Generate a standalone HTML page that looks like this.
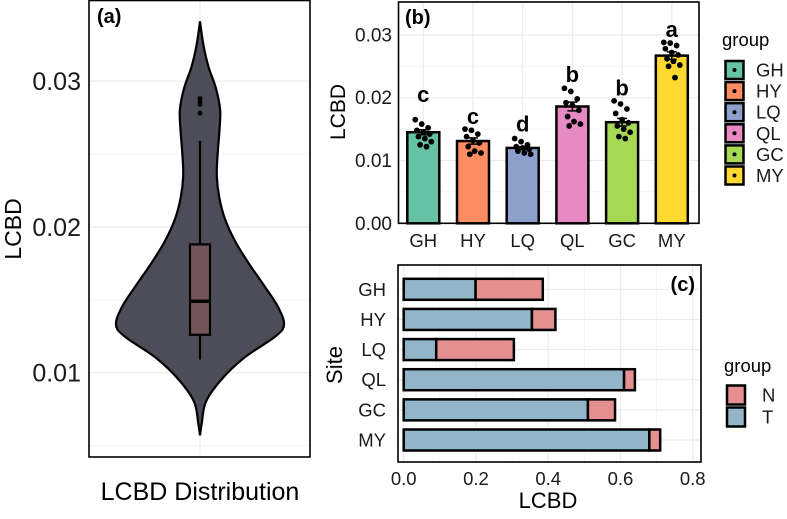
<!DOCTYPE html>
<html><head><meta charset="utf-8"><style>
body{margin:0;background:#fff}
svg{display:block;font-family:"Liberation Sans",Arial,sans-serif}
</style></head><body>
<svg id="s" width="787" height="519" viewBox="0 0 787 519">
<g id="ga"></g>
<g id="gb"></g>
<g id="gc"></g>
</svg>
<script>
// Panel (a) data
const violinVals = [0.0057,0.0065,0.0080,0.0095,0.0110,0.0125,0.0133,0.0145,0.0160,0.0175,0.0190,0.0205,0.0220,0.0235,0.0250,0.0265,0.0280,0.0295,0.0310,0.0325,0.0341];
const violinDens = [0,0.02,0.07,0.25,0.52,0.9,1.0,0.93,0.76,0.58,0.42,0.3,0.23,0.2,0.21,0.23,0.24,0.19,0.1,0.04,0];
const boxStats = [0.0109,0.0126,0.0149,0.0188,0.0259];
const outliers = [0.0288,0.0286,0.0284,0.0278];
const aTicks = [0.01,0.02,0.03];
// Panel (b) data
const sites = ["GH","HY","LQ","QL","GC","MY"];
const barColors = ["#66c2a5","#fc8d62","#8da0cb","#e78ac3","#a6d854","#ffd92f"];
const barMeans = [0.0145,0.0131,0.0120,0.0186,0.0161,0.0267];
const barSE = [0.0004,0.0005,0.0002,0.0007,0.0006,0.0006];
const letters = ["c","c","d","b","b","a"];
const letterVals = [0.0204,0.0169,0.0157,0.0236,0.0215,0.0308];
const pointsGH = [0.0165,0.0158,0.0152,0.0148,0.0145,0.0142,0.0138,0.0135,0.013,0.0125,0.0122];
const pointsHY = [0.015,0.0148,0.0142,0.0138,0.0132,0.0128,0.0122,0.0115,0.0112,0.011];
const pointsLQ = [0.0135,0.013,0.0125,0.0122,0.012,0.0118,0.0115,0.0112,0.011];
const pointsQL = [0.0215,0.021,0.0198,0.0192,0.0188,0.018,0.017,0.0162,0.0158,0.0155];
const pointsGC = [0.0195,0.019,0.0182,0.0175,0.0165,0.016,0.0155,0.015,0.0145,0.0138,0.0135];
const pointsMY = [0.0288,0.0287,0.0283,0.0278,0.0272,0.0268,0.0262,0.0258,0.0252,0.025,0.0232];
const bTicks = [0,0.01,0.02,0.03];
const bTickLabels = ["0.00","0.01","0.02","0.03"];
// Panel (c) data
const cSites = ["GH","HY","LQ","QL","GC","MY"];
const valT = [0.199,0.355,0.09,0.61,0.51,0.68];
const valN = [0.186,0.065,0.215,0.03,0.075,0.03];
const cTicks = [0,0.2,0.4,0.6,0.8];
const cTickLabels = ["0.0","0.2","0.4","0.6","0.8"];

const NS="http://www.w3.org/2000/svg";
function mk(parent,tag,attrs,text){const e=document.createElementNS(NS,tag);for(const k in attrs)e.setAttribute(k,attrs[k]);if(text!==undefined)e.textContent=text;parent.appendChild(e);return e;}

// ---------- Panel A ----------
const ga=document.getElementById('ga');
const ya=v=>372.7-(v-0.01)/0.01*145.8;
const cxa=200, wa=84;
mk(ga,'rect',{x:89,y:0,width:221,height:457,fill:'#fff'});
[0.005,0.015,0.025].forEach(v=>{mk(ga,'line',{x1:89,x2:310,y1:ya(v),y2:ya(v),stroke:'#f2f2f2','stroke-width':0.7});});
aTicks.forEach((v,i)=>{
 const l=mk(ga,'line',{x1:89,x2:310,y1:ya(v),y2:ya(v),stroke:'#ebebeb','stroke-width':1.2});
 
 
 const t=mk(ga,'text',{x:81,y:ya(v)+9,'text-anchor':'end','font-size':25,fill:'#1a1a1a'},v.toFixed(2));
 
 
});
mk(ga,'line',{x1:cxa,x2:cxa,y1:0,y2:457,stroke:'#ebebeb','stroke-width':1.2});
function smoothPath(pts){let d=`M${pts[0][0]},${pts[0][1]}`;for(let i=0;i<pts.length-1;i++){const p0=pts[Math.max(i-1,0)],p1=pts[i],p2=pts[i+1],p3=pts[Math.min(i+2,pts.length-1)];
 const c1=[p1[0]+(p2[0]-p0[0])/6,p1[1]+(p2[1]-p0[1])/6],c2=[p2[0]-(p3[0]-p1[0])/6,p2[1]-(p3[1]-p1[1])/6];d+=` C${c1[0]},${c1[1]} ${c2[0]},${c2[1]} ${p2[0]},${p2[1]}`;}return d;}
const right=violinVals.map((v,i)=>[cxa+violinDens[i]*wa,ya(v)]);
const left=violinVals.map((v,i)=>[cxa-violinDens[i]*wa,ya(v)]).reverse();
let vd=smoothPath(right)+' '+smoothPath(left).replace(/^M/,'L')+'Z';
const vp=mk(ga,'path',{d:vd,fill:'#4d4c59',stroke:'#000','stroke-width':2.2});


mk(ga,'line',{x1:cxa,x2:cxa,y1:ya(boxStats[4]),y2:ya(boxStats[3]),stroke:'#000','stroke-width':2.2});
mk(ga,'line',{x1:cxa,x2:cxa,y1:ya(boxStats[1]),y2:ya(boxStats[0]),stroke:'#000','stroke-width':2.2});
const bx=mk(ga,'rect',{x:cxa-10,y:ya(boxStats[3]),width:20,height:ya(boxStats[1])-ya(boxStats[3]),fill:'#74555c',stroke:'#000','stroke-width':2.2});


mk(ga,'line',{x1:cxa-10,x2:cxa+10,y1:ya(boxStats[2]),y2:ya(boxStats[2]),stroke:'#000','stroke-width':3.5});
outliers.forEach(v=>{const c=mk(ga,'circle',{cx:cxa,cy:ya(v),r:2.4,fill:'#000'});});
mk(ga,'rect',{x:89,y:0.5,width:221,height:456.5,fill:'none',stroke:'#000','stroke-width':1.6});
mk(ga,'text',{x:97,y:23,'font-size':20,'font-weight':'bold'},'(a)');
const at=mk(ga,'text',{x:0,y:0,'font-size':23,'text-anchor':'middle',transform:'translate(21,229) rotate(-90)'},'LCBD');

const ax=mk(ga,'text',{x:200,y:500,'font-size':25,'text-anchor':'middle'},'LCBD Distribution');


// ---------- Panel B ----------
const gb=document.getElementById('gb');
const yb=v=>223.3-v/0.01*62.8;
const xb=i=>423.3+i*49.7;
const allPts=[pointsGH,pointsHY,pointsLQ,pointsQL,pointsGC,pointsMY];
mk(gb,'rect',{x:398,y:2,width:301,height:221,fill:'#fff'});
[0.005,0.015,0.025].forEach(v=>mk(gb,'line',{x1:398,x2:699,y1:yb(v),y2:yb(v),stroke:'#f2f2f2','stroke-width':0.7}));
bTicks.forEach((v,i)=>{
 mk(gb,'line',{x1:398,x2:699,y1:yb(v),y2:yb(v),stroke:'#ebebeb','stroke-width':1.2});
 const t=mk(gb,'text',{x:392,y:yb(v)+6.5,'text-anchor':'end','font-size':19,fill:'#1a1a1a'},bTickLabels[i]);
 
 
});
sites.forEach((s,i)=>{
 mk(gb,'line',{x1:xb(i),x2:xb(i),y1:2,y2:223,stroke:'#ebebeb','stroke-width':1.2});
});
sites.forEach((s,i)=>{
 const r=mk(gb,'rect',{x:xb(i)-16,y:yb(barMeans[i]),width:32,height:yb(0)-yb(barMeans[i]),fill:barColors[i],stroke:'#000','stroke-width':2.5});
 
 
 allPts[i].forEach((v,j)=>{
  const off=((j*37)%11-5)*1.6;
  const c=mk(gb,'circle',{cx:xb(i)+off,cy:yb(v),r:2.9,fill:'#000'});
  
  
 });
 mk(gb,'path',{d:`M${xb(i)-5},${yb(barMeans[i]+barSE[i])}H${xb(i)+5}M${xb(i)},${yb(barMeans[i]+barSE[i])}V${yb(barMeans[i]-barSE[i])}M${xb(i)-5},${yb(barMeans[i]-barSE[i])}H${xb(i)+5}`,stroke:'#000','stroke-width':1.5,fill:'none'});
 const lt=mk(gb,'text',{x:xb(i),y:yb(letterVals[i])+7,'text-anchor':'middle','font-size':22,'font-weight':'bold'},letters[i]);
 
 const xt=mk(gb,'text',{x:xb(i),y:247,'text-anchor':'middle','font-size':18.5,fill:'#1a1a1a'},s);
 
});
mk(gb,'rect',{x:398.5,y:2,width:300.5,height:221.3,fill:'none',stroke:'#000','stroke-width':1.6});
mk(gb,'text',{x:405,y:24,'font-size':20,'font-weight':'bold'},'(b)');
const bt=mk(gb,'text',{x:0,y:0,'font-size':21,'text-anchor':'middle',transform:'translate(345,112) rotate(-90)'},'LCBD');

mk(gb,'text',{x:722,y:46,'font-size':18.5},'group');
sites.forEach((s,i)=>{
 const y=70+i*21.1;
 const k=mk(gb,'rect',{x:725.5,y:y-9,width:18,height:18,fill:barColors[i],stroke:'#000','stroke-width':2.5});
 
 mk(gb,'circle',{cx:734.5,cy:y,r:2,fill:'#000'});
 const t=mk(gb,'text',{x:756,y:y+6.5,'font-size':18.5,fill:'#1a1a1a'},s);
 
});

// ---------- Panel C ----------
const gc=document.getElementById('gc');
const xc=v=>403.7+v/0.2*72.25;
const yc=i=>289.3+i*30.14;
mk(gc,'rect',{x:398,y:265,width:303,height:197,fill:'#fff'});
[0.1,0.3,0.5,0.7].forEach(v=>mk(gc,'line',{x1:xc(v),x2:xc(v),y1:265,y2:462,stroke:'#f2f2f2','stroke-width':0.7}));
cTicks.forEach((v,i)=>{
 mk(gc,'line',{x1:xc(v),x2:xc(v),y1:265,y2:462,stroke:'#ebebeb','stroke-width':1.2});
 const t=mk(gc,'text',{x:xc(v),y:485,'text-anchor':'middle','font-size':18.5,fill:'#1a1a1a'},cTickLabels[i]);
 
});
cSites.forEach((s,i)=>{
 mk(gc,'line',{x1:398,x2:701,y1:yc(i),y2:yc(i),stroke:'#ebebeb','stroke-width':1.2});
 const bt=mk(gc,'rect',{x:xc(0),y:yc(i)-10.5,width:xc(valT[i])-xc(0),height:21,fill:'#92b5c9',stroke:'#000','stroke-width':2.5});
 
 const bn=mk(gc,'rect',{x:xc(valT[i]),y:yc(i)-10.5,width:xc(valT[i]+valN[i])-xc(valT[i]),height:21,fill:'#e68f91',stroke:'#000','stroke-width':2.5});
 
 const t=mk(gc,'text',{x:386,y:yc(i)+6.5,'text-anchor':'end','font-size':18.5,fill:'#1a1a1a'},s);
 
});
mk(gc,'rect',{x:398,y:265,width:303,height:197,fill:'none',stroke:'#000','stroke-width':1.6});
mk(gc,'text',{x:695,y:291,'text-anchor':'end','font-size':20,'font-weight':'bold'},'(c)');
const st=mk(gc,'text',{x:0,y:0,'font-size':22,'text-anchor':'middle',transform:'translate(342,365) rotate(-90)'},'Site');

const cx=mk(gc,'text',{x:548,y:508,'font-size':22,'text-anchor':'middle'},'LCBD');

mk(gc,'text',{x:724,y:372,'font-size':18.5},'group');
[["N","#e68f91",395],["T","#92b5c9",417]].forEach(([n,c,y])=>{
 const k=mk(gc,'rect',{x:727,y:y-9.5,width:18,height:19,fill:c,stroke:'#000','stroke-width':2.5});
 
 const t=mk(gc,'text',{x:762,y:y+6.5,'font-size':18.5,fill:'#1a1a1a'},n);
 
});
</script>
</body></html>
